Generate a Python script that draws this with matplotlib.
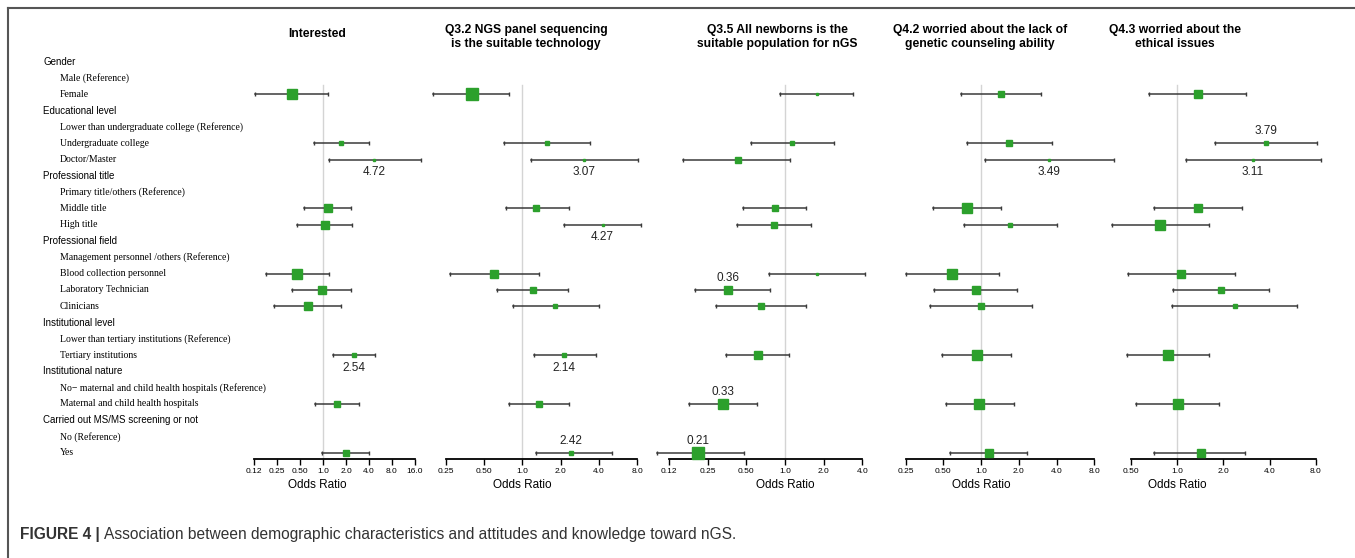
import math

import matplotlib
matplotlib.use("Agg")
import matplotlib.pyplot as plt
from matplotlib.ticker import NullLocator

# ---- row labels (top to bottom): h = heading, r = reference, d = data row ----
ROWS = [
    ("h", "Gender"),
    ("r", "Male (Reference)"),
    ("d", "Female"),
    ("h", "Educational level"),
    ("r", "Lower than undergraduate college (Reference)"),
    ("d", "Undergraduate college"),
    ("d", "Doctor/Master"),
    ("h", "Professional title"),
    ("r", "Primary title/others (Reference)"),
    ("d", "Middle title"),
    ("d", "High title"),
    ("h", "Professional field"),
    ("r", "Management personnel /others (Reference)"),
    ("d", "Blood collection personnel"),
    ("d", "Laboratory Technician"),
    ("d", "Clinicians"),
    ("h", "Institutional level"),
    ("r", "Lower than tertiary institutions (Reference)"),
    ("d", "Tertiary institutions"),
    ("h", "Institutional nature"),
    ("r", "No\u2212 maternal and child health hospitals (Reference)"),
    ("d", "Maternal and child health hospitals"),
    ("h", "Carried out MS/MS screening or not"),
    ("r", "No (Reference)"),
    ("d", "Yes"),
]

titles = ["Interested",
          "Q3.2 NGS panel sequencing\nis the suitable technology",
          "Q3.5 All newborns is the\nsuitable population for nGS",
          "Q4.2 worried about the lack of\ngenetic counseling ability",
          "Q4.3 worried about the\nethical issues"]

# ---- odds ratios, 95% CI, box weight (one value per data row, in row order) ----
or_interested = [0.39, 1.74, 4.72, 1.15, 1.06, 0.45, 0.96, 0.64, 2.54, 1.54, 1.98]
lo_interested = [0.13, 0.77, 1.19, 0.56, 0.46, 0.18, 0.39, 0.23, 1.34, 0.79, 0.97]
hi_interested = [1.15, 4.00, 19.0, 2.35, 2.42, 1.19, 2.30, 1.70, 4.84, 2.96, 4.03]
w_interested = [10, 4, 2, 7, 7, 10, 7, 8, 4, 6, 5]

or_q32 = [0.40, 1.56, 3.07, 1.29, 4.27, 0.60, 1.21, 1.82, 2.14, 1.35, 2.42]
lo_q32 = [0.20, 0.72, 1.16, 0.74, 2.11, 0.27, 0.63, 0.84, 1.23, 0.78, 1.27]
hi_q32 = [0.78, 3.42, 8.16, 2.31, 8.60, 1.34, 2.30, 4.00, 3.78, 2.34, 5.10]
w_q32 = [11, 4, 2, 5, 2, 7, 5, 4, 4, 5.5, 3]

or_q35 = [1.76, 1.14, 0.43, 0.83, 0.82, 1.77, 0.36, 0.65, 0.62, 0.33, 0.21]
lo_q35 = [0.91, 0.54, 0.16, 0.47, 0.42, 0.75, 0.20, 0.29, 0.35, 0.18, 0.10]
hi_q35 = [3.40, 2.42, 1.10, 1.46, 1.59, 4.19, 0.77, 1.45, 1.07, 0.61, 0.48]
w_q35 = [2.5, 3, 5, 5, 5, 2, 7.5, 5, 7, 9, 11]

or_q42 = [1.44, 1.68, 3.49, 0.77, 1.71, 0.59, 0.91, 1.00, 0.92, 0.97, 1.15]
lo_q42 = [0.69, 0.77, 1.08, 0.41, 0.73, 0.25, 0.42, 0.39, 0.49, 0.52, 0.56]
hi_q42 = [3.00, 3.69, 11.5, 1.45, 4.05, 1.39, 1.95, 2.56, 1.73, 1.82, 2.33]
w_q42 = [6, 5, 2, 10.5, 4, 10, 8, 6, 9, 9, 7]

or_q43 = [1.36, 3.79, 3.11, 1.36, 0.77, 1.06, 1.92, 2.38, 0.87, 1.01, 1.43]
lo_q43 = [0.66, 1.77, 1.14, 0.71, 0.38, 0.48, 0.94, 0.93, 0.47, 0.54, 0.71]
hi_q43 = [2.81, 8.10, 8.60, 2.63, 1.61, 2.37, 3.98, 6.05, 1.62, 1.88, 2.78]
w_q43 = [7, 3, 2, 7, 10.5, 7, 5, 4.3, 10.5, 9, 7]

ticks = [[0.125, 0.25, 0.5, 1, 2, 4, 8, 16],
         [0.25, 0.5, 1, 2, 4, 8],
         [0.125, 0.25, 0.5, 1, 2, 4],
         [0.25, 0.5, 1, 2, 4, 8],
         [0.5, 1, 2, 4, 8]]
tick_labels = [["0.12", "0.25", "0.50", "1.0", "2.0", "4.0", "8.0", "16.0"],
               ["0.25", "0.50", "1.0", "2.0", "4.0", "8.0"],
               ["0.12", "0.25", "0.50", "1.0", "2.0", "4.0"],
               ["0.25", "0.50", "1.0", "2.0", "4.0", "8.0"],
               ["0.50", "1.0", "2.0", "4.0", "8.0"]]

# annotated ORs: (panel, data row index, "above"/"below")
annotations = [(0, 2, "below"), (0, 8, "below"),
               (1, 2, "below"), (1, 4, "below"), (1, 8, "below"), (1, 10, "above"),
               (2, 6, "above"), (2, 9, "above"), (2, 10, "above"),
               (3, 2, "below"),
               (4, 1, "above"), (4, 2, "below")]

panels = [(or_interested, lo_interested, hi_interested, w_interested),
          (or_q32, lo_q32, hi_q32, w_q32),
          (or_q35, lo_q35, hi_q35, w_q35),
          (or_q42, lo_q42, hi_q42, w_q42),
          (or_q43, lo_q43, hi_q43, w_q43)]

# ---- layout in pixels ----
W, H = 1355, 558
ROW0, DROW = 61.7, 16.3
AX_TOP, AX_BOT = 20, 458.5
panel_x = [(254, 415), (445.7, 637.3), (669, 862.3), (905.7, 1094.3), (1130.7, 1316)]
title_x = [317, 526, 777, 980, 1175]
title_y = [34, 37, 37, 37, 37]
GREEN = "#2ca02c"
SANS = "Liberation Sans"
SERIF = "Liberation Serif"


def fx(x):
    return x / W


def fy(y):
    return 1 - y / H


fig = plt.figure(figsize=(W / 100, H / 100), dpi=100)

# frame (left and top)
fig.add_artist(plt.Line2D([fx(8), fx(8)], [fy(8), 0], color="#555555", lw=1.5))
fig.add_artist(plt.Line2D([fx(8), 1], [fy(8), fy(8)], color="#555555", lw=1.5))

# row labels
data_rows = []
for i, (kind, text) in enumerate(ROWS):
    y = ROW0 + DROW * i
    if kind == "h":
        fig.text(fx(43), fy(y), text, family=SANS, fontsize=7, va="center", ha="left")
    else:
        fig.text(fx(60), fy(y), text, family=SERIF, fontsize=7, va="center", ha="left")
    if kind == "d":
        data_rows.append(i)

r_bot = (AX_BOT - ROW0) / DROW
r_top = (AX_TOP - ROW0) / DROW

for p, (ors, los, his, ws) in enumerate(panels):
    x0, x1 = panel_x[p]
    ax = fig.add_axes([fx(x0), fy(AX_BOT), (x1 - x0) / W, (AX_BOT - AX_TOP) / H])
    ax.set_xscale("log", base=2)
    ax.set_xlim(ticks[p][0], ticks[p][-1])
    ax.set_ylim(r_bot, r_top)
    ax.set_xticks(ticks[p])
    ax.set_xticklabels(tick_labels[p], fontsize=6, family=SANS)
    ax.xaxis.set_minor_locator(NullLocator())
    ax.set_yticks([])
    for s in ("top", "left", "right"):
        ax.spines[s].set_visible(False)
    ax.spines["bottom"].set_linewidth(1.3)
    ax.tick_params(axis="x", length=4, width=1, pad=3, direction="out")
    ax.patch.set_alpha(0)

    ax.plot([1, 1], [1.43, r_bot], color="#d4d4d4", lw=1, zorder=0)

    for k, r in enumerate(data_rows):
        ax.plot([los[k], his[k]], [r, r], color="#3a3a3a", lw=1.1, clip_on=False, zorder=2)
        ax.plot([los[k], his[k]], [r, r], ls="none", marker="|", ms=3.5, mew=1,
                color="#3a3a3a", clip_on=False, zorder=2)
        ax.plot([ors[k]], [r], marker="s", ms=ws[k] * 0.75, color=GREEN, mec=GREEN,
                ls="none", clip_on=False, zorder=3)

    for (pp, k, where) in annotations:
        if pp != p:
            continue
        r = data_rows[k]
        dy = 0.78 if where == "below" else -0.72
        ax.text(ors[k], r + dy, f"{ors[k]:.2f}", family=SANS, fontsize=8.5,
                ha="center", va="center", color="#222222")

    fig.text(fx(title_x[p]), fy(title_y[p]), titles[p], family=SANS, fontsize=8.7,
             fontweight="bold", ha="center", va="center", linespacing=1.15)

    # "Odds Ratio" sits under the OR = 1 line (slightly left in the first panel)
    frac = -math.log2(ticks[p][0]) / math.log2(ticks[p][-1] / ticks[p][0])
    ox = x0 + (x1 - x0) * frac if p else title_x[0]
    fig.text(fx(ox), fy(485), "Odds Ratio", family=SANS, fontsize=8.5,
             ha="center", va="center")

# caption
t1 = fig.text(fx(20), fy(535), "FIGURE 4 |", family=SANS, fontsize=11.2,
              fontweight="bold", color="#333333", va="center", ha="left")
fig.canvas.draw()
bb = t1.get_window_extent()
fig.text((bb.x1 + 4) / W, fy(535),
         "Association between demographic characteristics and attitudes and knowledge toward nGS.",
         family=SANS, fontsize=11.2, color="#333333", va="center", ha="left")

fig.savefig("out.png", dpi=100)
